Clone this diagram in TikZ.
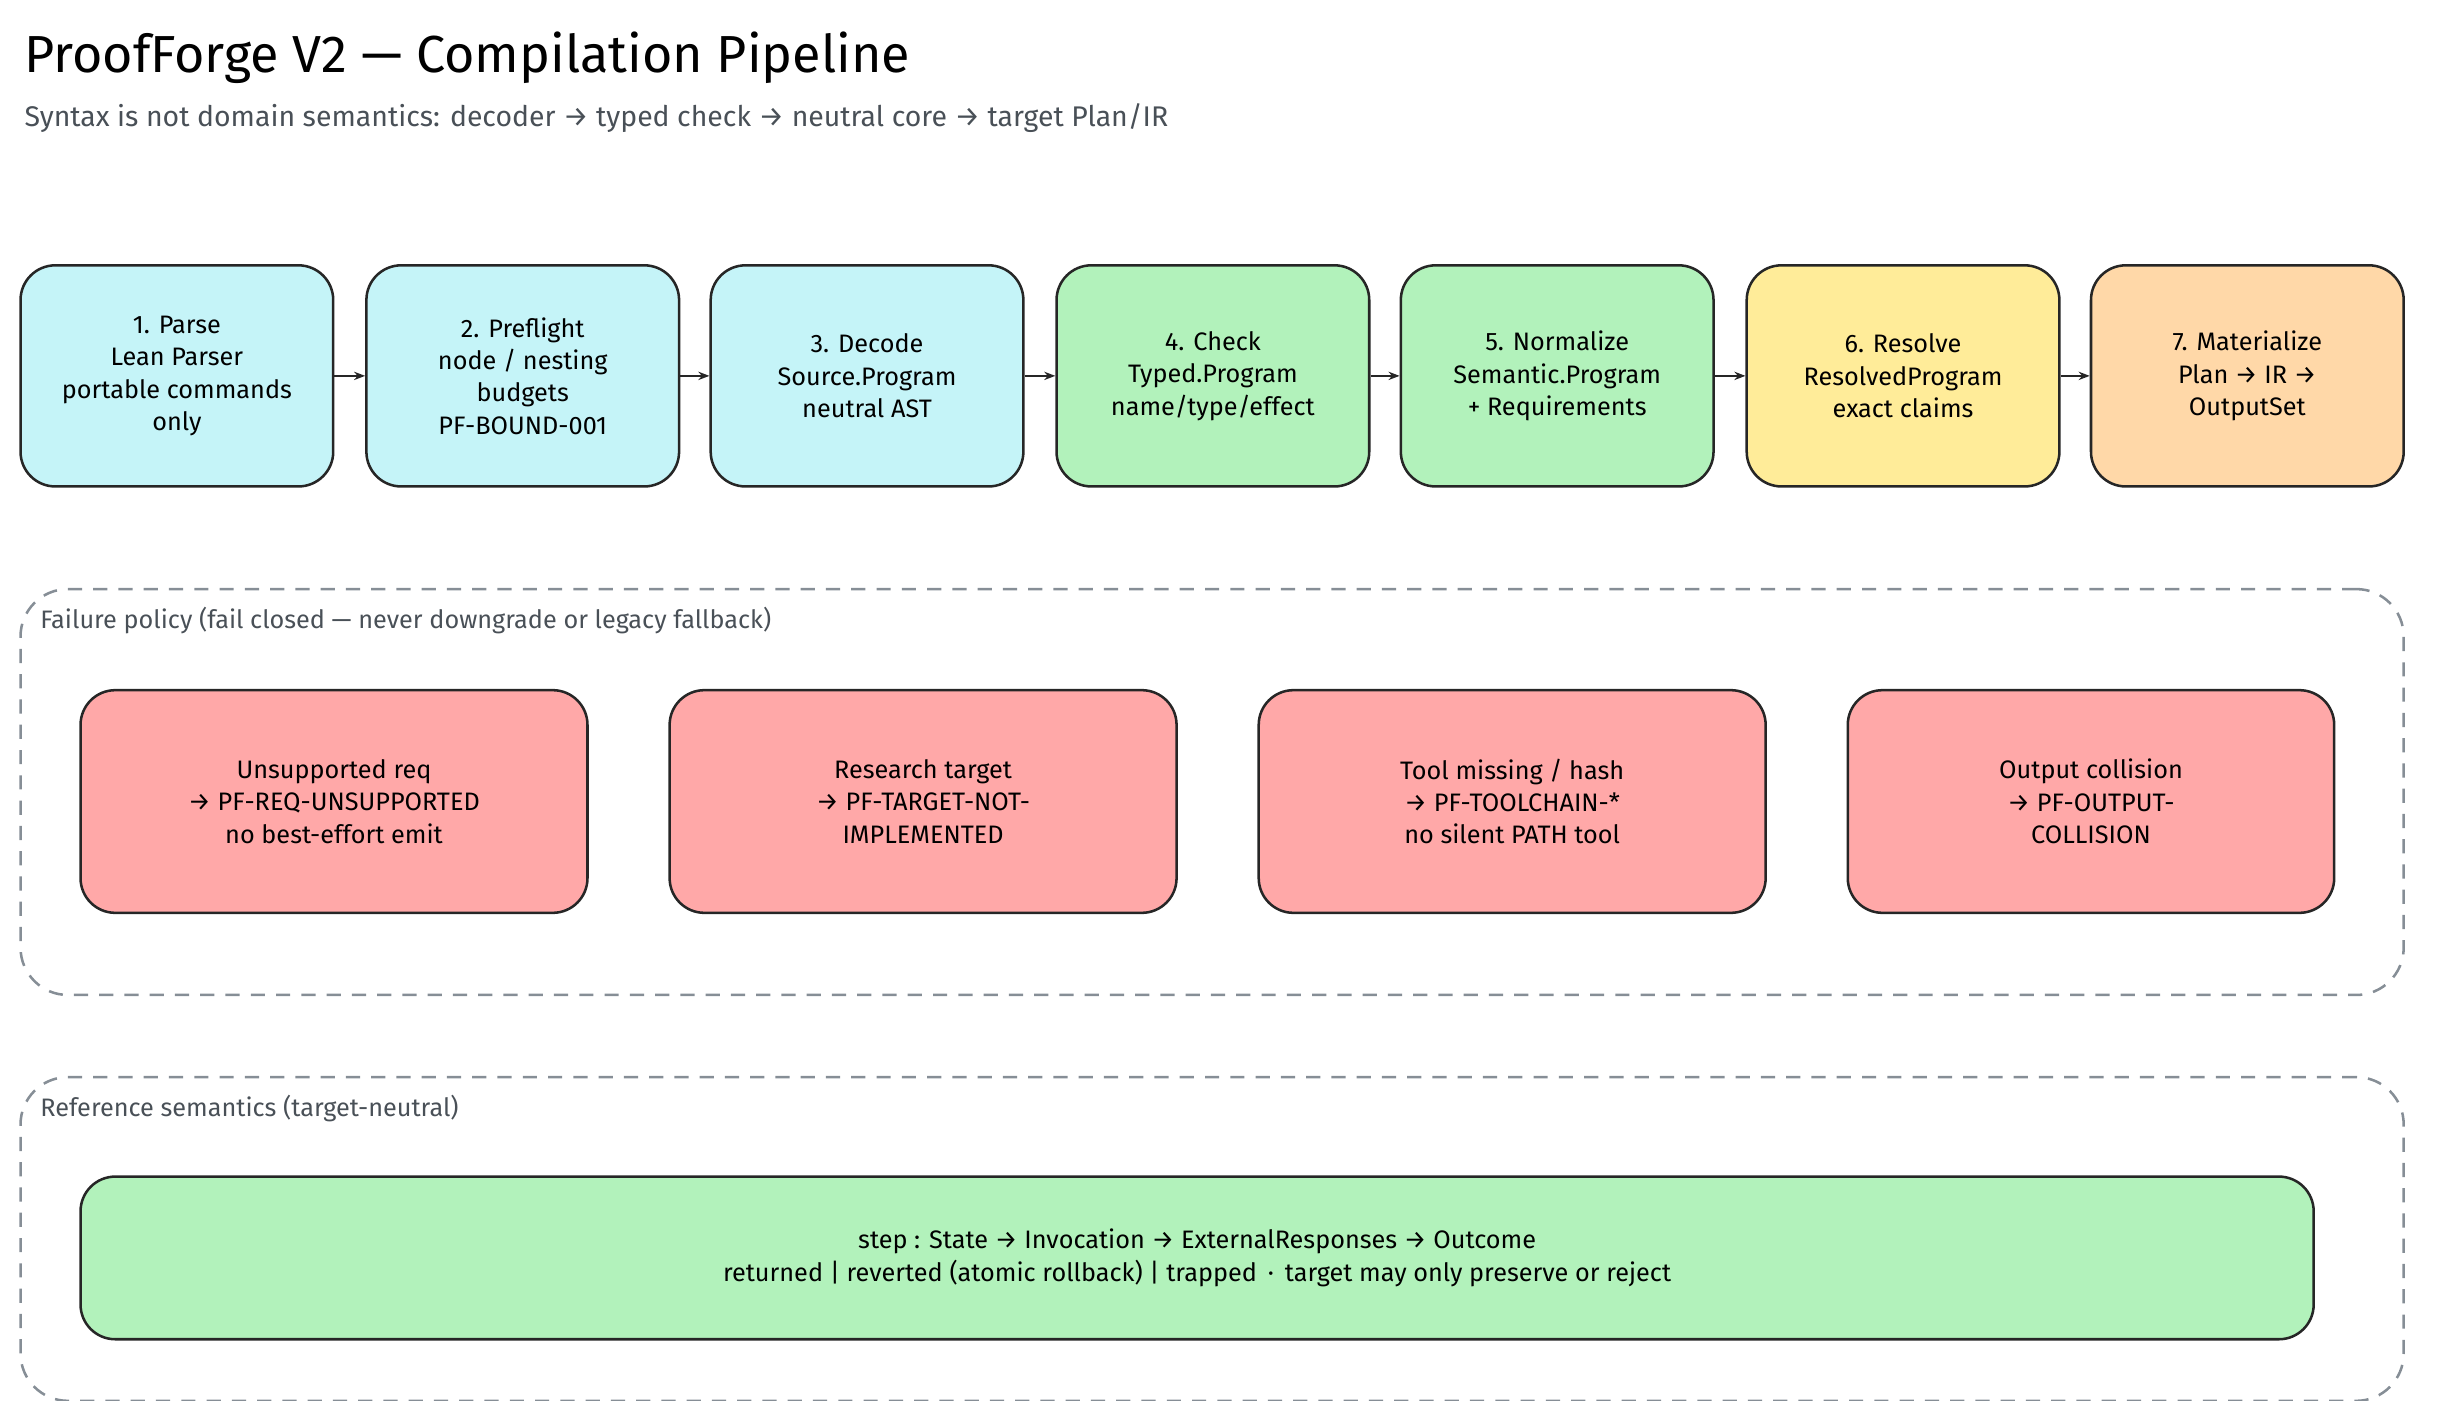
\documentclass[tikz,border=0pt]{standalone}
\usepackage{fontspec}
\setmainfont{Fira Sans}
\usetikzlibrary{positioning,arrows.meta}
\definecolor{cyanfill}{HTML}{C5F4F8}
\definecolor{greenfill}{HTML}{B2F2BB}
\definecolor{yellowfill}{HTML}{FFEC99}
\definecolor{orangefill}{HTML}{FFD8A8}
\definecolor{redfill}{HTML}{FFA8A8}
\definecolor{groupgray}{HTML}{868E96}
\definecolor{inkgray}{HTML}{495057}
\begin{document}
\begin{tikzpicture}[x=1pt,y=-1pt, font=\fontsize{16}{20.5}\selectfont]
\tikzstyle{stagebox}=[draw=black!85,line width=1.6pt,rounded corners=22pt,minimum width=198pt,minimum height=140pt,align=center]
\tikzstyle{failbox}=[draw=black!85,line width=1.6pt,rounded corners=22pt,minimum width=321pt,minimum height=141pt,align=center,fill=redfill]
\tikzstyle{groupbox}=[draw=groupgray,line width=1.6pt,dashed,dash pattern=on 9pt off 7pt,rounded corners=30pt]
\tikzstyle{flow}=[-{Stealth[length=7pt]},line width=1.4pt,black!85]
\useasboundingbox (0,0) rectangle (1545,887);
\node[anchor=base west,font=\fontsize{33}{38}\selectfont] (title) at (12,46) {ProofForge V2 — Compilation Pipeline};
\node[anchor=base west,text=inkgray,font=\fontsize{18}{22}\selectfont] (subtitle) at (12,80) {Syntax is not domain semantics: decoder → typed check → neutral core → target Plan/IR};
% pipeline stages
\node[stagebox,fill=cyanfill]   (parse)   at (112,238)  {1. Parse\\Lean Parser\\portable commands\\only};
\node[stagebox,fill=cyanfill]   (pre)     at (331,238)  {2. Preflight\\node / nesting\\budgets\\PF-BOUND-001};
\node[stagebox,fill=cyanfill]   (decode)  at (549,238)  {3. Decode\\Source.Program\\neutral AST};
\node[stagebox,fill=greenfill]  (check)   at (768,238)  {4. Check\\Typed.Program\\name/type/effect};
\node[stagebox,fill=greenfill]  (norm)    at (986,238)  {5. Normalize\\Semantic.Program\\+ Requirements};
\node[stagebox,fill=yellowfill] (resolve) at (1205,238) {6. Resolve\\ResolvedProgram\\exact claims};
\node[stagebox,fill=orangefill] (mat)     at (1423,238) {7. Materialize\\Plan → IR →\\OutputSet};
\foreach \a/\b in {parse/pre,pre/decode,decode/check,check/norm,norm/resolve,resolve/mat}
  \draw[flow] (\a.east) -- (\b.west);
% failure policy
\node[groupbox,minimum width=1509pt,minimum height=257pt] (failgrp) at (767.5,501.5) {};
\node[anchor=west,text=inkgray] (faillbl) at (22,393) {Failure policy (fail closed — never downgrade or legacy fallback)};
\node[failbox] (unsup)  at (211.5,507.5)  {Unsupported req\\→ PF-REQ-UNSUPPORTED\\no best-effort emit};
\node[failbox] (resrch) at (584.5,507.5)  {Research target\\→ PF-TARGET-NOT-\\IMPLEMENTED};
\node[failbox] (tool)   at (957.5,507.5)  {Tool missing / hash\\→ PF-TOOLCHAIN-*\\no silent PATH tool};
\node[failbox,minimum width=308pt] (collide) at (1324,507.5) {Output collision\\→ PF-OUTPUT-\\COLLISION};
% reference semantics
\node[groupbox,minimum width=1509pt,minimum height=205pt] (refgrp) at (767.5,784.5) {};
\node[anchor=west,text=inkgray] (reflbl) at (22,702) {Reference semantics (target-neutral)};
\node[failbox,fill=greenfill,minimum width=1414pt,minimum height=103pt] (sem) at (758,796.5)
  {step : State → Invocation → ExternalResponses → Outcome\\returned | reverted (atomic rollback) | trapped \,·\, target may only preserve or reject};
\end{tikzpicture}
\end{document}
